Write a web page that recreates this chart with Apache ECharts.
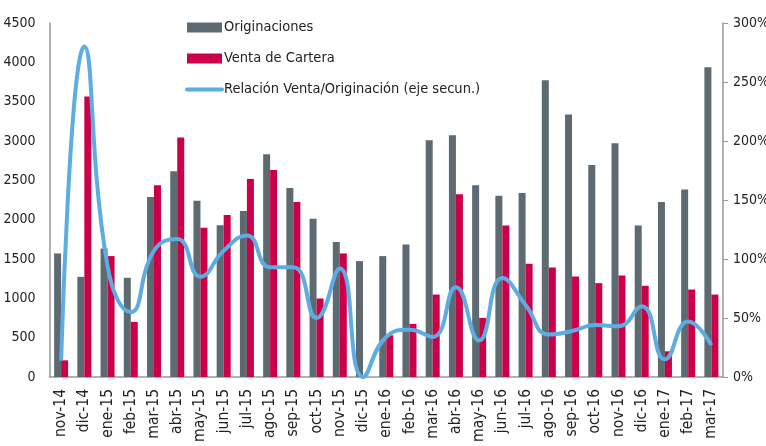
<!DOCTYPE html>
<html>
<head>
<meta charset="utf-8">
<script src="https://cdn.jsdelivr.net/npm/echarts@6/dist/echarts.min.js"></script>
<style>
  html, body { margin: 0; padding: 0; background: #fff; }
  #chart { width: 766px; height: 446px; }
</style>
</head>
<body>
<div id="chart"></div>
<script>
const meses = ["nov-14", "dic-14", "ene-15", "feb-15", "mar-15", "abr-15", "may-15", "jun-15",
  "jul-15", "ago-15", "sep-15", "oct-15", "nov-15", "dic-15", "ene-16", "feb-16", "mar-16",
  "abr-16", "may-16", "jun-16", "jul-16", "ago-16", "sep-16", "oct-16", "nov-16", "dic-16",
  "ene-17", "feb-17", "mar-17"];
const originaciones = [1571, 1273, 1635, 1261, 2288, 2615, 2241, 1928, 2110, 2832, 2403, 2012, 1715, 1473,
  1537, 1685, 3009, 3073, 2436, 2305, 2339, 3773, 3336, 2696, 2971, 1927, 2224, 2385, 3939];
const ventaCartera = [212, 3565, 1537, 700, 2437, 3043, 1897, 2059, 2517, 2632, 2224, 998, 1571, 0,
  530, 675, 1048, 2322, 751, 1927, 1439, 1392, 1277, 1193, 1290, 1159, 327, 1112, 1048];
// relación venta / originación, en %
const relacion = [14, 280, 94, 55, 107, 117, 85, 107, 120, 93, 93, 50, 92, 0,
  34, 40, 34, 76, 31, 84, 61, 36, 39, 44, 43, 60, 15, 47, 27];

const fuente = "'DejaVu Sans Condensed', 'Liberation Sans Narrow', sans-serif";

let myChart = echarts.init(document.getElementById("chart"));
myChart.setOption({
  animation: false,
  textStyle: { fontFamily: fuente },
  legend: {
    orient: "vertical",
    left: 180,
    top: 15,
    itemWidth: 35,
    itemHeight: 10,
    itemGap: 16,
    textStyle: { fontSize: 14.5, color: "#222", fontFamily: fuente, padding: [0, 0, 0, -3] },
    data: [
      { name: "Originaciones", icon: "rect" },
      { name: "Venta de Cartera", icon: "rect" },
      { name: "Relación Venta/Originación (eje secun.)", itemStyle: { opacity: 0 },
        lineStyle: { width: 4, cap: "round" } }
    ]
  },
  grid: { left: 49.5, right: 43, top: 23, bottom: 69, outerBoundsMode: "none" },
  xAxis: {
    type: "category",
    data: meses,
    axisLine: { lineStyle: { color: "#999", width: 1.5 } },
    axisTick: { show: false },
    axisLabel: { rotate: 90, fontSize: 15.5, color: "#222", margin: 12, interval: 0 }
  },
  yAxis: [
    {
      type: "value",
      min: 0,
      max: 4500,
      interval: 500,
      splitLine: { show: false },
      axisLine: { show: true, lineStyle: { color: "#999", width: 1.5 } },
      axisTick: { show: false },
      axisLabel: { fontSize: 14, color: "#222", margin: 14, formatter: function (v) { return String(v); } }
    },
    {
      type: "value",
      min: 0,
      max: 300,
      interval: 50,
      splitLine: { show: false },
      axisLine: { show: true, lineStyle: { color: "#999", width: 1.5 } },
      axisTick: { show: true, length: 5, lineStyle: { color: "#999" } },
      axisLabel: { fontSize: 14, color: "#222", margin: 10, formatter: "{value}%" }
    }
  ],
  series: [
    {
      name: "Originaciones",
      type: "bar",
      data: originaciones,
      barWidth: 7,
      barGap: "0%",
      itemStyle: { color: "#5E6A72" }
    },
    {
      name: "Venta de Cartera",
      type: "bar",
      data: ventaCartera,
      barWidth: 7,
      barGap: "0%",
      itemStyle: { color: "#CC0048" }
    },
    {
      name: "Relación Venta/Originación (eje secun.)",
      type: "line",
      yAxisIndex: 1,
      data: relacion,
      smooth: 0.5,
      showSymbol: false,
      symbol: "none",
      lineStyle: { color: "#5DADE2", width: 4 },
      itemStyle: { color: "#5DADE2" }
    }
  ]
});
</script>
</body>
</html>
